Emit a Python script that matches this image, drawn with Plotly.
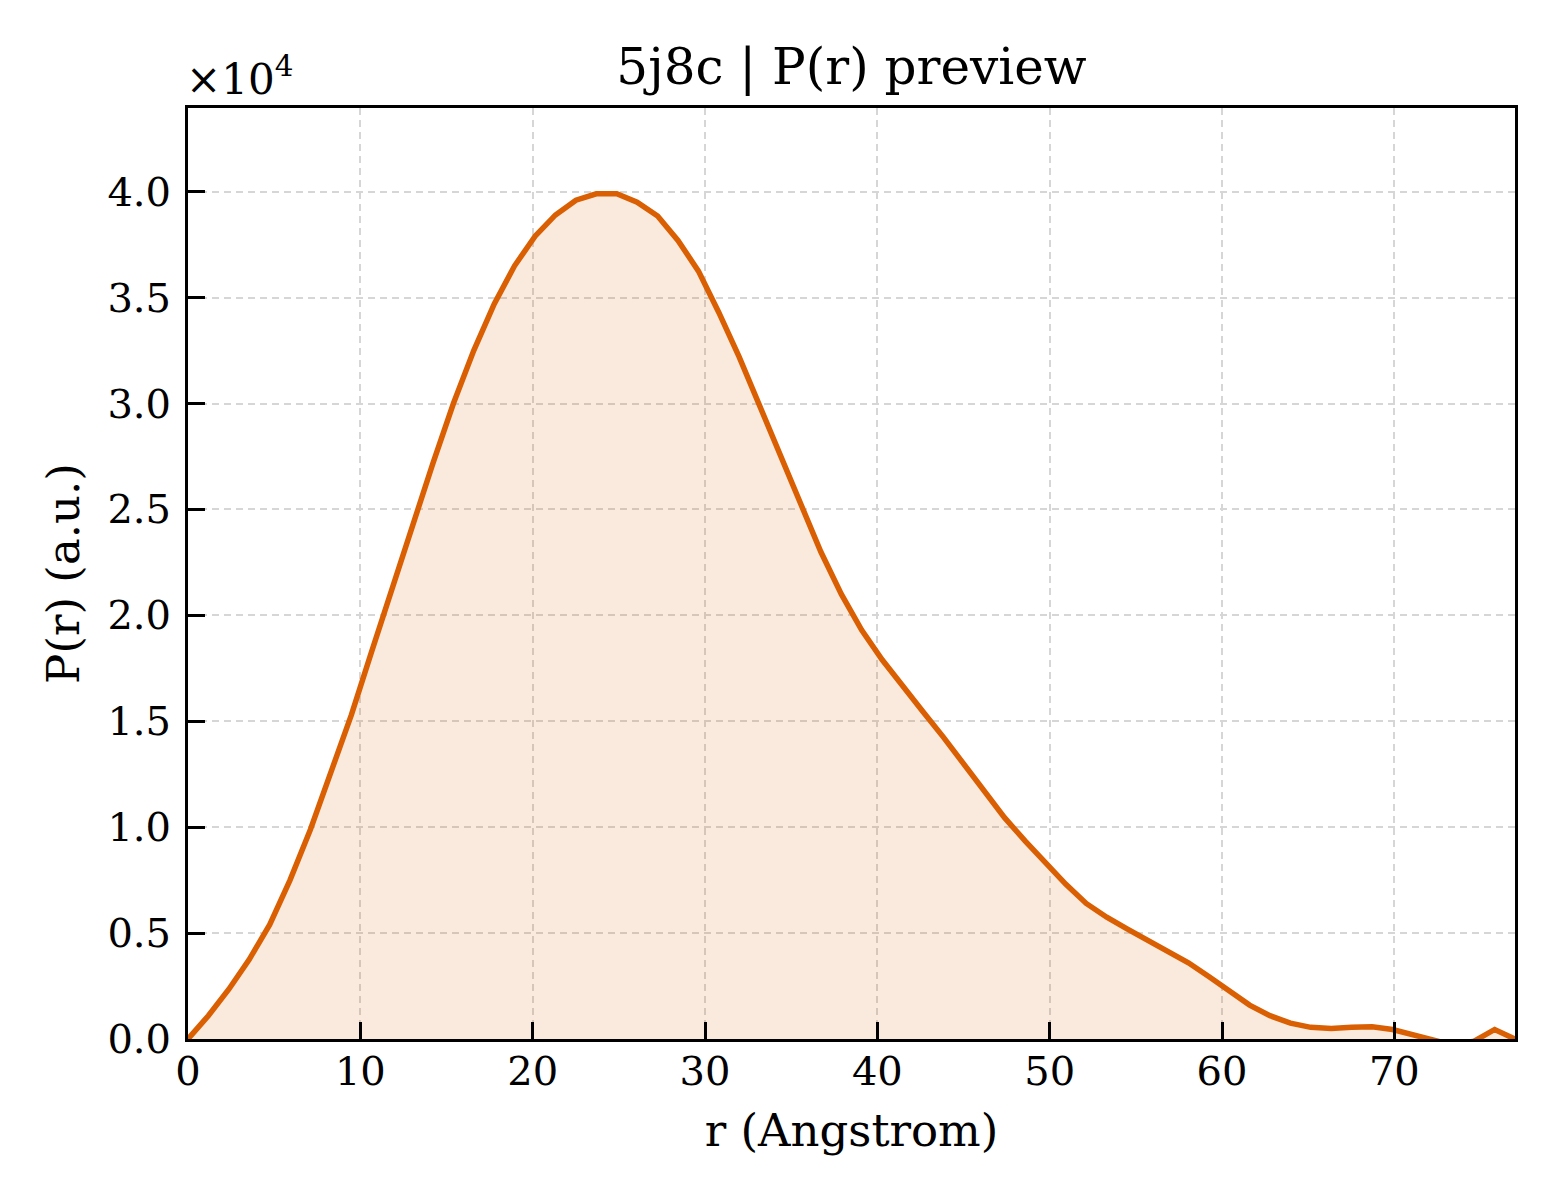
import plotly.graph_objects as go

r_values = [0.00, 1.18, 2.37, 3.55, 4.74, 5.92, 7.11, 8.29, 9.48, 10.66,
            11.85, 13.03, 14.22, 15.40, 16.58, 17.77, 18.95, 20.14, 21.32, 22.51,
            23.69, 24.88, 26.06, 27.25, 28.43, 29.62, 30.80, 31.98, 33.17, 34.35,
            35.54, 36.72, 37.91, 39.09, 40.28, 41.46, 42.65, 43.83, 45.02, 46.20,
            47.38, 48.57, 49.75, 50.94, 52.12, 53.31, 54.49, 55.68, 56.86, 58.05,
            59.23, 60.42, 61.60, 62.78, 63.97, 65.15, 66.34, 67.52, 68.71, 69.89,
            71.08, 72.26, 73.45, 74.63, 75.82, 77.00]
pr_values = [0, 1100, 2350, 3750, 5400, 7500, 9900, 12500, 15300, 18300,
             21300, 24300, 27200, 30000, 32500, 34700, 36500, 37900, 38900, 39600,
             39900, 39900, 39500, 38850, 37700, 36250, 34300, 32200, 29900, 27550,
             25200, 23000, 21000, 19300, 17900, 16650, 15450, 14250, 13000, 11750,
             10450, 9350, 8350, 7300, 6400, 5750, 5200, 4650, 4150, 3600,
             2950, 2250, 1600, 1100, 750, 550, 500, 550, 580, 450,
             200, -100, -300, -100, 450, 0]

x_ticks = [0, 10, 20, 30, 40, 50, 60, 70]
y_ticks = [0.0, 0.5, 1.0, 1.5, 2.0, 2.5, 3.0, 3.5, 4.0]

scale = 1e4
line_color = "#D95F02"
font_family = "DejaVu Serif"

fig = go.Figure()
fig.add_trace(go.Scatter(
    x=r_values,
    y=[v / scale for v in pr_values],
    mode="lines",
    line=dict(color=line_color, width=5.5),
    fill="tozeroy",
    fillcolor="rgba(217,95,2,0.13)",
    showlegend=False,
))

axis_common = dict(
    showline=True, linecolor="black", linewidth=3, mirror=True,
    ticks="inside", ticklen=17, tickwidth=3, tickcolor="black",
    showgrid=True, gridcolor="#d6d6d6", gridwidth=1.5, griddash="7px,5px",
    zeroline=False,
    tickfont=dict(family=font_family, size=40, color="black"),
)

fig.update_xaxes(
    range=[0, 77], tickvals=x_ticks, ticklabelstandoff=-5,
    title=dict(text="r (Angstrom)", font=dict(family=font_family, size=45, color="black"), standoff=22),
    **axis_common,
)
fig.update_yaxes(
    range=[0, 4.395], tickvals=y_ticks, ticktext=[f"{t:.1f}" for t in y_ticks],
    ticklabelstandoff=6,
    title=dict(text="P(r) (a.u.)", font=dict(family=font_family, size=45, color="black"), standoff=14),
    **axis_common,
)

fig.add_annotation(
    text="×10<sup>4</sup>", xref="paper", yref="paper", x=0.0, y=1.0,
    xanchor="left", yanchor="bottom", showarrow=False, yshift=2, xshift=-4,
    font=dict(family=font_family, size=42, color="black"),
)

# the page body adds an 8px offset, so margins are trimmed to land the plot box in place
fig.update_layout(
    width=1560, height=1200,
    margin=dict(l=180, r=53, t=100, b=169),
    paper_bgcolor="white", plot_bgcolor="white",
    title=dict(text="5j8c | P(r) preview", x=0.5, xref="paper", y=1.0, yref="paper",
               yanchor="bottom", pad=dict(b=24),
               font=dict(family=font_family, size=50, color="black")),
    font=dict(family=font_family, color="black"),
)

fig.write_html("out.html")
